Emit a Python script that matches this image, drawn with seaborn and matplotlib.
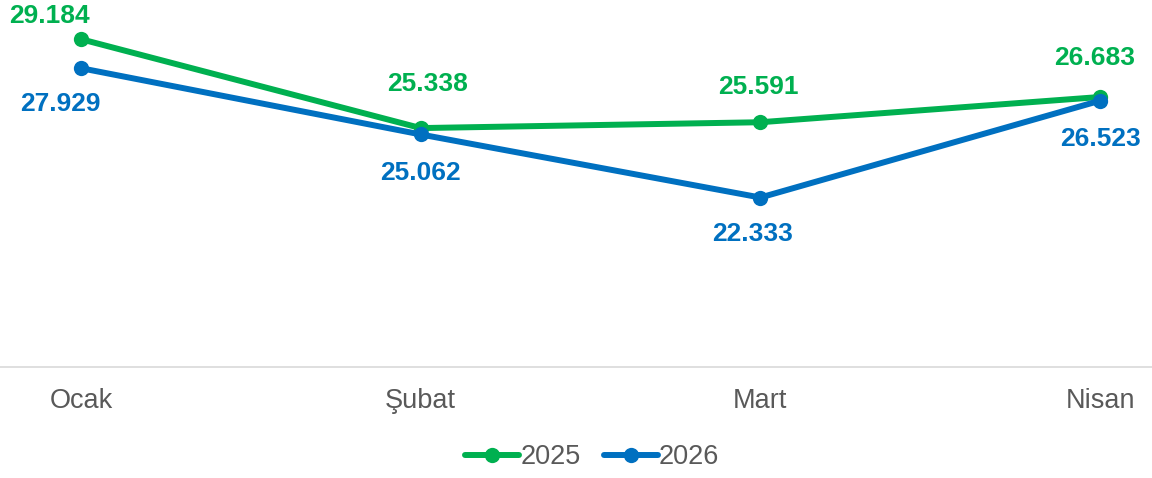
import pandas as pd
import matplotlib
matplotlib.use("Agg")
import matplotlib.pyplot as plt
import seaborn as sns

# aylar ve değerler
months = ["Ocak", "Şubat", "Mart", "Nisan"]
vals_2025 = [29184, 25338, 25591, 26683]
vals_2026 = [27929, 25062, 22333, 26523]
years = ["2025", "2026"]
colors = {"2025": "#00b050", "2026": "#0070c0"}

# etiket kaydırmaları (px)
offs_2025 = [(-32, 23), (7, 44), (-2, 35), (-5, 39)]
offs_2026 = [(-21, -36), (0, -39), (-8, -36), (0, -38)]

df = pd.DataFrame({
    "Ay": months * 2,
    "x": list(range(len(months))) * 2,
    "Değer": vals_2025 + vals_2026,
    "Yıl": [years[0]] * 4 + [years[1]] * 4,
})

sns.set_style("white")
plt.rcParams["font.family"] = ["Liberation Sans", "DejaVu Sans"]

fig = plt.figure(figsize=(11.52, 4.78), dpi=100)
ax = fig.add_axes([0, (478 - 367) / 478, 1, 367 / 478])

sns.lineplot(data=df, x="x", y="Değer", hue="Yıl", palette=colors,
             marker="o", markersize=11, markeredgewidth=0, linewidth=4.3,
             ax=ax, legend=True)

ax.set_ylim(15000, 30880)
ax.set_xlim(-0.2385, 3.153)
ax.set_xticks(range(len(months)))
ax.set_xticklabels(months)
ax.tick_params(axis="x", length=0, pad=15, labelsize=19.5, labelcolor="#595959")
ax.set_yticks([])
ax.set_xlabel("")
ax.set_ylabel("")
for s in ["top", "left", "right"]:
    ax.spines[s].set_visible(False)
ax.spines["bottom"].set_color("#d9d9d9")
ax.spines["bottom"].set_linewidth(1.2)


def fmt(v):
    return f"{v:,}".replace(",", ".")


for vals, offs, yr in [(vals_2025, offs_2025, "2025"), (vals_2026, offs_2026, "2026")]:
    for i, v in enumerate(vals):
        dx, dy = offs[i]
        ax.annotate(fmt(v), (i, v), xytext=(dx * 0.72, dy * 0.72),
                    textcoords="offset points", ha="center", va="center",
                    fontsize=19, fontweight="bold", color=colors[yr],
                    annotation_clip=False)

handles, labels = ax.get_legend_handles_labels()
ax.legend(handles, labels, loc="center", bbox_to_anchor=(0.514, 1 - 457 / 478),
          bbox_transform=fig.transFigure, ncol=2, frameon=False,
          fontsize=19.5, labelcolor="#595959", handlelength=2.0,
          handletextpad=0.05, columnspacing=0.85, borderpad=0)

fig.savefig("out.png", dpi=100)
